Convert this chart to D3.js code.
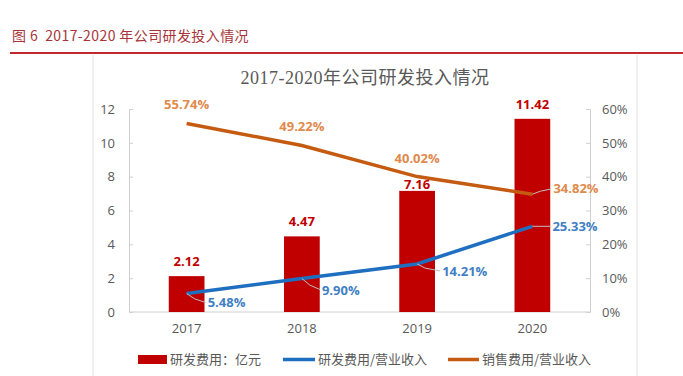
<!DOCTYPE html>
<html>
<head>
<meta charset="utf-8">
<script src="https://cdn.jsdelivr.net/npm/d3@7"></script>
<style>
  body { margin: 0; background: #fff; }
  svg { display: block; font-family: "Noto Sans CJK SC", "Open Sans", sans-serif; }
</style>
</head>
<body>
<div id="chart"></div>
<script>
const years = ['2017', '2018', '2019', '2020'];
const rdCost = [2.12, 4.47, 7.16, 11.42];          // 研发费用：亿元
const rdRatio = [5.48, 9.90, 14.21, 25.33];        // 研发费用/营业收入 (%)
const salesRatio = [55.74, 49.22, 40.02, 34.82];   // 销售费用/营业收入 (%)
const leftTicks = [0, 2, 4, 6, 8, 10, 12];
const rightTicks = [0, 10, 20, 30, 40, 50, 60];

const W = 683, H = 376;
const m = { left: 129, right: 590, top: 109, bottom: 312 };
const RED = '#c00000', BLUE = '#1f6fc0', ORANGE = '#c55a11';
const BLUE_TXT = '#3f7fc4', ORANGE_TXT = '#e08a4c';

const svg = d3.select('#chart').append('svg').attr('width', W).attr('height', H);

// header of the report page
svg.append('text').attr('x', 12).attr('y', 41)
  .attr('fill', '#a8343a').style('font-size', '14px').style('letter-spacing', '0.4px')
  .style('white-space', 'pre')
  .text('图 6  2017-2020 年公司研发投入情况');
svg.append('line').attr('x1', 10).attr('x2', W).attr('y1', 53).attr('y2', 53)
  .attr('stroke', '#c0282e').attr('stroke-width', 2);
// chart frame
[93, 637].forEach(x => svg.append('line').attr('x1', x).attr('x2', x)
  .attr('y1', 55).attr('y2', H).attr('stroke', '#e2e2e2').attr('stroke-width', 1));

svg.append('text').attr('x', 365).attr('y', 84).attr('text-anchor', 'middle')
  .attr('fill', '#595959').style('font-size', '18px').style('letter-spacing', '0.5px')
  .style('font-family', '"Liberation Serif", "Noto Sans CJK SC", serif')
  .text('2017-2020年公司研发投入情况');

const x = d3.scaleBand().domain(years).range([m.left, m.right]).paddingInner(0.69).paddingOuter(0.345);
const yL = d3.scaleLinear().domain([0, 12]).range([m.bottom, m.top]);
const yR = d3.scaleLinear().domain([0, 60]).range([m.bottom, m.top]);
const cx = d => x(d) + x.bandwidth() / 2;

// axes
const axL = svg.append('g').attr('transform', `translate(${m.left},0)`)
  .call(d3.axisLeft(yL).tickValues(leftTicks).tickSize(-4).tickPadding(14));
const axR = svg.append('g').attr('transform', `translate(${m.right},0)`)
  .call(d3.axisRight(yR).tickValues(rightTicks).tickSize(-4).tickPadding(12).tickFormat(d => d + '%'));
const axB = svg.append('g').attr('transform', `translate(0,${m.bottom})`)
  .call(d3.axisBottom(x).tickSize(0).tickPadding(12));
[axL, axR, axB].forEach(g => {
  g.selectAll('path, line').attr('stroke', '#d0d0d0');
  g.selectAll('text').attr('fill', '#595959').style('font-size', '13px')
    .style('font-family', '"Open Sans", sans-serif');
});
axB.select('.domain').attr('d', `M${m.left},0H${m.right}`);

// bars
svg.append('g').selectAll('rect').data(rdCost).join('rect')
  .attr('x', (d, i) => x(years[i])).attr('width', x.bandwidth())
  .attr('y', d => yL(d)).attr('height', d => yL(0) - yL(d)).attr('fill', RED);
// the 2019 label sits lower so it clears the orange line
const barLblOff = [10, 10, 2, 10];
svg.append('g').selectAll('text').data(rdCost).join('text')
  .attr('x', (d, i) => cx(years[i])).attr('y', (d, i) => yL(d) - barLblOff[i])
  .attr('text-anchor', 'middle').attr('fill', RED)
  .style('font-size', '13px').style('font-weight', 'bold').style('font-family', '"Open Sans", sans-serif')
  .text(d => d.toFixed(2));

// lines
const line = d3.line().x((d, i) => cx(years[i])).y(d => yR(d));
svg.append('path').datum(rdRatio).attr('d', line).attr('fill', 'none')
  .attr('stroke', BLUE).attr('stroke-width', 3.5);
svg.append('path').datum(salesRatio).attr('d', line).attr('fill', 'none')
  .attr('stroke', ORANGE).attr('stroke-width', 3.5);

// line labels
const lblStyle = sel => sel.style('font-size', '13px').style('font-weight', 'bold')
  .style('font-family', '"Open Sans", sans-serif');
const leader = (x1, y1, x2, y2) => svg.append('path')
  .attr('d', `M${x1},${y1}L${x1 + 8},${y1 + (y2 - y1) * 0.6}L${x2},${y2}`)
  .attr('fill', 'none').attr('stroke', '#bfbfbf').attr('stroke-width', 1);

// sales ratio: above points, last one to the right
salesRatio.forEach((v, i) => {
  const px = cx(years[i]), py = yR(v);
  if (i < 3) {
    svg.append('text').attr('x', px).attr('y', py - 14).attr('text-anchor', 'middle')
      .attr('fill', ORANGE_TXT).call(lblStyle).text(v.toFixed(2) + '%');
  } else {
    leader(px, py, px + 18, py - 5);
    svg.append('text').attr('x', px + 21).attr('y', py - 1)
      .attr('fill', ORANGE_TXT).call(lblStyle).text(v.toFixed(2) + '%');
  }
});
// rd ratio: below right with leader lines
const rdOff = [[21, 9], [20, 11], [25, 7], [20, 0]];
rdRatio.forEach((v, i) => {
  const px = cx(years[i]), py = yR(v);
  const [dx, dy] = rdOff[i];
  if (i < 3) leader(px, py, px + dx - 2, py + dy);
  else svg.append('line').attr('x1', px).attr('x2', px + dx - 2).attr('y1', py).attr('y2', py)
    .attr('stroke', '#bfbfbf');
  svg.append('text').attr('x', px + dx).attr('y', py + dy + 5)
    .attr('fill', BLUE_TXT).call(lblStyle).text(v.toFixed(2) + '%');
});

// legend
const lg = svg.append('g').style('font-size', '13px').attr('fill', '#595959');
lg.append('rect').attr('x', 138).attr('y', 355).attr('width', 29).attr('height', 9).attr('fill', RED);
lg.append('text').attr('x', 170).attr('y', 364).text('研发费用：亿元');
lg.append('line').attr('x1', 283).attr('x2', 315).attr('y1', 359.5).attr('y2', 359.5)
  .attr('stroke', BLUE).attr('stroke-width', 3.5);
lg.append('text').attr('x', 318).attr('y', 364).text('研发费用/营业收入');
lg.append('line').attr('x1', 448).attr('x2', 479).attr('y1', 359.5).attr('y2', 359.5)
  .attr('stroke', ORANGE).attr('stroke-width', 3.5);
lg.append('text').attr('x', 482).attr('y', 364).text('销售费用/营业收入');
</script>
</body>
</html>
